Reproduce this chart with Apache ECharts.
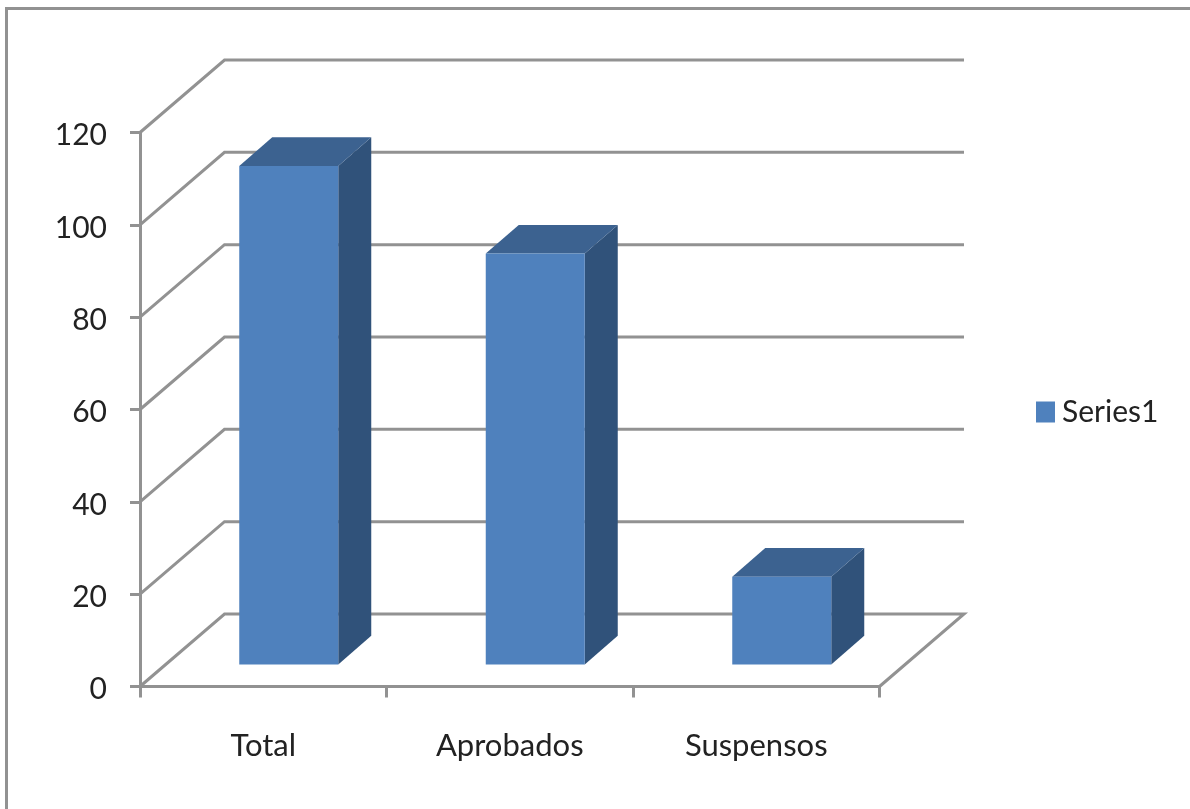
<!DOCTYPE html>
<html><head><meta charset="utf-8">
<style>html,body{margin:0;padding:0;background:#fff}#c{width:1190px;height:809px}</style>
<script src="https://cdn.jsdelivr.net/npm/echarts@6/dist/echarts.min.js"></script>
</head><body><div id="c"></div>
<script>
const categories = ['Total', 'Aprobados', 'Suspensos'];
const values = [108, 89, 19];
const yTicks = [0, 20, 40, 60, 80, 100, 120];
const seriesName = 'Series1';

const FONT = 'Lato, sans-serif';
const GREY = '#929292';
const DX = 84.5, DY = -72.5;
const BAR_W = 99, BX = 25.5, BY = -22, BDX = 33, BDY = -28.7;

const chart = echarts.init(document.getElementById('c'), null, {renderer: 'canvas'});
chart.setOption({
  animation: false,
  backgroundColor: '#fff',
  graphic: [{
    type: 'polyline', silent: true,
    shape: {points: [[6.5, 809], [6.5, 8.5], [1190, 8.5]]},
    style: {stroke: GREY, lineWidth: 3, fill: 'none'}
  }],
  legend: {
    show: true, data: [seriesName], left: 1036, top: 397, orient: 'vertical',
    icon: 'rect', itemWidth: 19, itemHeight: 21, itemGap: 0,
    textStyle: {fontFamily: FONT, fontSize: 30, color: '#222', padding: [4, 0, 0, 2]},
    padding: 0, selectedMode: false
  },
  grid: {left: 140, top: 132.5, width: 739.5, height: 554},
  xAxis: {
    type: 'category', data: categories,
    axisLine: {lineStyle: {color: GREY, width: 3}},
    axisTick: {show: true, alignWithLabel: false, length: 11, lineStyle: {color: GREY, width: 3}},
    axisLabel: {fontFamily: FONT, fontSize: 31, color: '#222', margin: 44},
    splitLine: {show: false}
  },
  yAxis: {
    type: 'value', min: 0, max: 120, interval: 20,
    axisLine: {show: true, lineStyle: {color: GREY, width: 3}},
    axisTick: {show: true, length: 10, lineStyle: {color: GREY, width: 3}},
    axisLabel: {fontFamily: FONT, fontSize: 30, color: '#222', margin: 33, verticalAlign: 'top', lineHeight: 6},
    splitLine: {show: false}
  },
  series: [
    {
      type: 'custom', name: 'walls', silent: true, z: 1,
      data: yTicks.map(v => [0, v]),
      encode: {y: 1},
      renderItem(params, api) {
        const g = params.coordSys;
        const y = api.coord([0, api.value(1)])[1];
        const x0 = g.x, x1 = g.x + g.width;
        const pts = [[x0, y], [x0 + DX, y + DY], [x1 + DX, y + DY]];
        if (api.value(1) === 0) pts.push([x1, y]);
        return {type: 'polyline', shape: {points: pts},
          style: {stroke: GREY, lineWidth: 3, fill: 'none'}};
      }
    },
    {
      type: 'custom', name: seriesName, silent: true, z: 3,
      itemStyle: {color: '#4f81bd'},
      data: values.map((v, i) => [i, v]),
      encode: {x: 0, y: 1},
      renderItem(params, api) {
        const base = api.coord([api.value(0), 0]);
        const top = api.coord([api.value(0), api.value(1)]);
        const l = base[0] + BX - BAR_W / 2, r = l + BAR_W;
        const b = base[1] + BY, t = top[1] + BY;
        return {type: 'group', children: [
          {type: 'polygon', shape: {points: [[r, t], [r + BDX, t + BDY], [r + BDX, b + BDY], [r, b]]},
            style: {fill: '#30527a'}},
          {type: 'polygon', shape: {points: [[l, t], [l + BDX, t + BDY], [r + BDX, t + BDY], [r, t]]},
            style: {fill: '#3c6290'}},
          {type: 'rect', shape: {x: l, y: t, width: BAR_W, height: b - t},
            style: {fill: '#4f81bd'}}
        ]};
      }
    }
  ]
});
</script></body></html>
